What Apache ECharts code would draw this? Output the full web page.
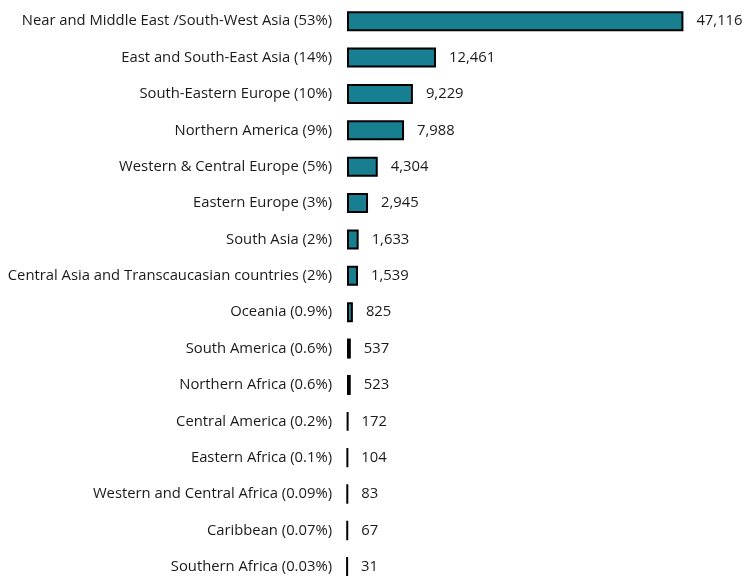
<!DOCTYPE html>
<html><head><meta charset="utf-8">
<script src="https://cdn.jsdelivr.net/npm/echarts@6/dist/echarts.min.js"></script>
<style>html,body{margin:0;padding:0;background:#fff}#c{width:749px;height:576px}</style>
</head><body><div id="c"></div>
<script>
const categories = [
  "Near and Middle East /South-West Asia (53%)",
  "East and South-East Asia (14%)",
  "South-Eastern Europe (10%)",
  "Northern America (9%)",
  "Western & Central Europe (5%)",
  "Eastern Europe (3%)",
  "South Asia (2%)",
  "Central Asia and Transcaucasian countries (2%)",
  "Oceania (0.9%)",
  "South America (0.6%)",
  "Northern Africa (0.6%)",
  "Central America (0.2%)",
  "Eastern Africa (0.1%)",
  "Western and Central Africa (0.09%)",
  "Caribbean (0.07%)",
  "Southern Africa (0.03%)"
];
const values = [47116, 12461, 9229, 7988, 4304, 2945, 1633, 1539, 825, 537, 523, 172, 104, 83, 67, 31];

const chart = echarts.init(document.getElementById('c'), null, {renderer: 'canvas'});
const font = 'Open Sans';
chart.setOption({
  animation: false,
  grid: {left: 347, width: 357, top: 3, height: 582, containLabel: false, outerBoundsMode: 'none'},
  xAxis: {type: 'value', min: 0, max: 50000, show: false},
  yAxis: {
    type: 'category', data: categories, inverse: true,
    axisLine: {show: false}, axisTick: {show: false},
    axisLabel: {margin: 15, fontFamily: font, fontSize: 14.8, color: '#1a1a1a'}
  },
  series: [{
    type: 'bar', data: values, barWidth: 20,
    itemStyle: {color: '#177f8f', borderColor: '#000', borderWidth: 2},
    label: {show: true, position: 'right', distance: 13, fontFamily: font, fontSize: 14.8, color: '#1a1a1a',
      formatter: p => p.value.toLocaleString('en-US')}
  }]
});
</script></body></html>
